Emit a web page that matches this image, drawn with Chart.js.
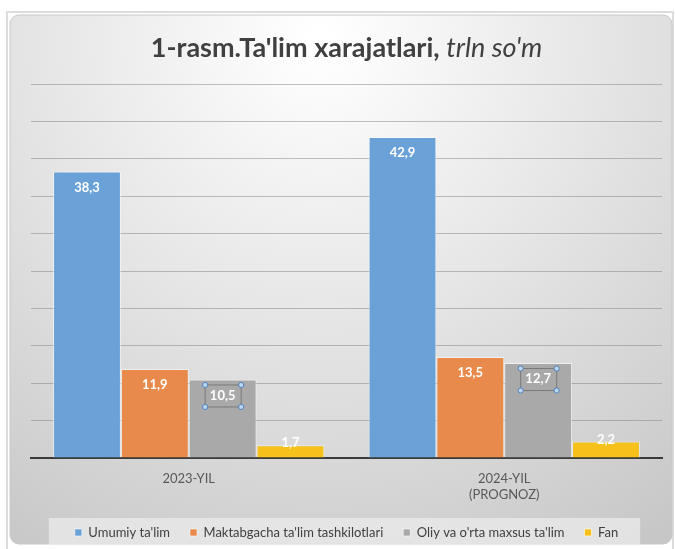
<!DOCTYPE html>
<html>
<head>
<meta charset="utf-8">
<script src="https://cdn.jsdelivr.net/npm/chart.js@4"></script>
<style>
  html, body { margin: 0; padding: 0; background: #fff; }
</style>
</head>
<body>
<canvas id="chart" width="675" height="549"></canvas>
<script>
// data
var years = [['2023-YIL'], ['2024-YIL', '(PROGNOZ)']];
var umumiy = [38.3, 42.9];
var maktabgacha = [11.9, 13.5];
var oliy = [10.5, 12.7];
var fan = [1.7, 2.2];
var yMin = 0, yMax = 50, yStep = 5;

var titleBold = "1-rasm.Ta'lim xarajatlari, ";
var titleItalic = "trln so'm";
var fontFam = 'Lato, "Open Sans", sans-serif';

function fmt(v) {
    return v.toFixed(1).replace('.', ',');
}

// frame + gradient background + legend box
var framePlugin = {
    id: 'frame',
    beforeDraw: function(chart) {
        var ctx = chart.ctx;
        ctx.save();
        ctx.fillStyle = '#ffffff';
        ctx.fillRect(0, 0, chart.width, chart.height);

        ctx.strokeStyle = '#dcdcdc';
        ctx.lineWidth = 2;
        ctx.strokeRect(7, 12, chart.width - 9, chart.height - 8);

        var g = ctx.createRadialGradient(320, 40, 10, 320, 40, 650);
        g.addColorStop(0, '#ffffff');
        g.addColorStop(0.45, '#e4e4e4');
        g.addColorStop(1, '#c2c2c2');
        ctx.fillStyle = g;
        ctx.beginPath();
        ctx.roundRect(10, 15, chart.width - 13, chart.height - 20, 9);
        ctx.fill();
        ctx.strokeStyle = '#c9c9c9';
        ctx.lineWidth = 1;
        ctx.stroke();

        var lg = chart.legend;
        if (lg && lg.legendHitBoxes && lg.legendHitBoxes.length) {
            var hb = lg.legendHitBoxes;
            var l = hb[0].left - 26;
            var r = hb[hb.length - 1].left + hb[hb.length - 1].width + 22;
            ctx.fillStyle = 'rgba(235,235,235,0.75)';
            ctx.fillRect(l, hb[0].top - 8, r - l, 27);
        }
        ctx.restore();
    }
};

var titlePlugin = {
    id: 'mixedTitle',
    afterDraw: function(chart) {
        var ctx = chart.ctx;
        var ca = chart.chartArea;
        ctx.save();
        var fb = 'bold 27px ' + fontFam;
        var fi = 'italic 27px ' + fontFam;
        ctx.font = fb;
        var w1 = ctx.measureText(titleBold).width;
        ctx.font = fi;
        var w2 = ctx.measureText(titleItalic).width;
        var x = (ca.left + ca.right) / 2 - (w1 + w2) / 2;
        ctx.textBaseline = 'alphabetic';
        ctx.fillStyle = '#404040';
        ctx.font = fb;
        ctx.fillText(titleBold, x, 57);
        ctx.font = fi;
        ctx.fillText(titleItalic, x + w1, 57);
        ctx.restore();
    }
};

var labelPlugin = {
    id: 'valueLabels',
    afterDatasetsDraw: function(chart) {
        var ctx = chart.ctx;
        ctx.save();
        ctx.font = 'bold 13px ' + fontFam;
        ctx.textAlign = 'center';
        ctx.textBaseline = 'middle';
        chart.data.datasets.forEach(function(ds, di) {
            var meta = chart.getDatasetMeta(di);
            meta.data.forEach(function(bar, i) {
                var h = bar.base - bar.y;
                var y = h > 30 ? bar.y + 16 : bar.y - 2;
                if (di === 2) {
                    // selected label box with handles
                    ctx.strokeStyle = '#7a7a7a';
                    ctx.lineWidth = 1;
                    ctx.strokeRect(bar.x - 17.5, y - 10.5, 36, 22);
                    ctx.fillStyle = '#bcd6ee';
                    ctx.strokeStyle = '#4f81bd';
                    [[-17.5, -10.5], [18.5, -10.5], [-17.5, 11.5], [18.5, 11.5]].forEach(function(p) {
                        ctx.beginPath();
                        ctx.arc(bar.x + p[0], y + p[1], 2.6, 0, Math.PI * 2);
                        ctx.fill();
                        ctx.stroke();
                    });
                }
                ctx.fillStyle = '#ffffff';
                ctx.fillText(fmt(ds.data[i]), bar.x, y);
            });
        });
        ctx.restore();
    }
};

var ctx = document.getElementById('chart').getContext('2d');
var chart = new Chart(ctx, {
    type: 'bar',
    data: {
        labels: years,
        datasets: [
            { label: 'Umumiy ta\'lim', data: umumiy, backgroundColor: '#6aa2d7' },
            { label: 'Maktabgacha ta\'lim tashkilotlari', data: maktabgacha, backgroundColor: '#e88a4b' },
            { label: 'Oliy va o\'rta maxsus ta\'lim', data: oliy, backgroundColor: '#a9a9a9' },
            { label: 'Fan', data: fan, backgroundColor: '#f7c11c' }
        ]
    },
    options: {
        responsive: false,
        animation: false,
        layout: { padding: { left: 31, right: 13, top: 84, bottom: 0 } },
        datasets: {
            bar: {
                categoryPercentage: 0.86,
                barPercentage: 1,
                borderColor: 'rgba(255,255,255,0.55)',
                borderWidth: 1
            }
        },
        scales: {
            x: {
                grid: { display: false },
                border: { display: true, color: '#3a3a3a', width: 2 },
                ticks: { color: '#595959', font: { family: fontFam, size: 13 }, padding: 5 },
                afterFit: function(s) { s.height = 48; }
            },
            y: {
                min: yMin,
                max: yMax,
                ticks: { stepSize: yStep, display: false },
                border: { display: false },
                grid: { color: 'rgba(120,120,120,0.45)', drawTicks: false }
            }
        },
        plugins: {
            legend: {
                position: 'bottom',
                labels: {
                    boxWidth: 7,
                    boxHeight: 7,
                    padding: 20,
                    color: '#404040',
                    font: { family: fontFam, size: 13 }
                }
            },
            tooltip: { enabled: false }
        }
    },
    plugins: [framePlugin, titlePlugin, labelPlugin]
});
</script>
</body>
</html>
